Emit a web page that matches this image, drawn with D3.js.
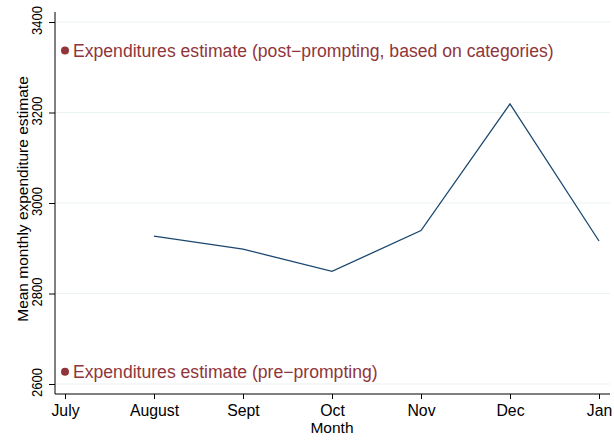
<!DOCTYPE html>
<html>
<head>
<meta charset="utf-8">
<script src="https://cdn.jsdelivr.net/npm/d3@7"></script>
<style>
  body { margin: 0; background: #fff; }
  text { font-family: "Liberation Sans", Arial, sans-serif; }
</style>
</head>
<body>
<div id="chart"></div>
<script>
// Mean monthly expenditure by month, with the two reference estimates marked at July
const months = ['July', 'August', 'Sept', 'Oct', 'Nov', 'Dec', 'Jan'];
const lineMonths = ['August', 'Sept', 'Oct', 'Nov', 'Dec', 'Jan'];
const lineValues = [2927, 2898, 2849, 2939, 3219, 2916];
const markerLabels = ['Expenditures estimate (post\u2212prompting, based on categories)', 'Expenditures estimate (pre\u2212prompting)'];
const markerValues = [3337, 2627];
const yTicks = [2600, 2800, 3000, 3200, 3400];

const W = 614, H = 442;
const margin = { top: 12, right: 4, bottom: 48, left: 55 };

const svg = d3.select('#chart').append('svg')
    .attr('width', W)
    .attr('height', H);

const x = d3.scalePoint()
    .domain(months)
    .range([65, 599]);

const y = d3.scaleLinear()
    .domain([2600, 3400])
    .range([384, 22]);

const plotBottom = H - margin.bottom;

// Grid lines
svg.append('g')
    .selectAll('line')
    .data(yTicks)
    .enter()
    .append('line')
    .attr('x1', margin.left)
    .attr('x2', W - margin.right)
    .attr('y1', d => y(d))
    .attr('y2', d => y(d))
    .attr('stroke', '#eaf2f3')
    .attr('stroke-width', 1.2);

// Y axis
const yAxis = svg.append('g')
    .attr('transform', `translate(${margin.left},0)`)
    .call(d3.axisLeft(y).tickValues(yTicks).tickSize(6).tickFormat(d3.format('d')));
yAxis.select('.domain').remove();
yAxis.append('line')
    .attr('x1', 0).attr('x2', 0)
    .attr('y1', margin.top).attr('y2', plotBottom)
    .attr('stroke', '#000');
yAxis.selectAll('.tick line').attr('stroke', '#000');
// rotated labels are a bit narrower along the axis than across it in the original
yAxis.selectAll('.tick text')
    .attr('transform', 'rotate(-90) scale(1,1.15)')
    .attr('x', 2)
    .attr('y', -11)
    .attr('dy', 0)
    .attr('text-anchor', 'middle')
    .style('font-size', '13px')
    .style('fill', '#000');

// X axis
const xAxis = svg.append('g')
    .attr('transform', `translate(0,${plotBottom})`)
    .call(d3.axisBottom(x).tickSize(5));
xAxis.select('.domain').remove();
xAxis.append('line')
    .attr('x1', margin.left).attr('x2', W - margin.right)
    .attr('y1', 0).attr('y2', 0)
    .attr('stroke', '#000');
xAxis.selectAll('.tick line').attr('stroke', '#000');
xAxis.selectAll('.tick text')
    .attr('y', 22)
    .attr('dy', 0)
    .style('font-size', '15.8px')
    .style('fill', '#000');

// Axis titles
svg.append('text')
    .attr('x', 332)
    .attr('y', 433)
    .attr('text-anchor', 'middle')
    .style('font-size', '15.5px')
    .text('Month');

svg.append('text')
    .attr('transform', 'rotate(-90)')
    .attr('x', -199)
    .attr('y', 28)
    .attr('text-anchor', 'middle')
    .style('font-size', '15.5px')
    .text('Mean monthly expenditure estimate');

// Series line
const line = d3.line()
    .x((d, i) => x(lineMonths[i]))
    .y(d => y(d));

svg.append('path')
    .datum(lineValues)
    .attr('d', line)
    .attr('fill', 'none')
    .attr('stroke', '#1a476f')
    .attr('stroke-width', 1.3);

// Reference markers with labels
const markers = svg.append('g')
    .selectAll('g')
    .data(markerValues)
    .enter()
    .append('g');

markers.append('circle')
    .attr('cx', x('July'))
    .attr('cy', d => y(d))
    .attr('r', 4)
    .attr('fill', '#90353b');

markers.append('text')
    .attr('x', x('July') + 8)
    .attr('y', d => y(d))
    .attr('dy', '0.35em')
    .style('font-size', '17.6px')
    .style('fill', '#90353b')
    .text((d, i) => markerLabels[i]);
</script>
</body>
</html>
